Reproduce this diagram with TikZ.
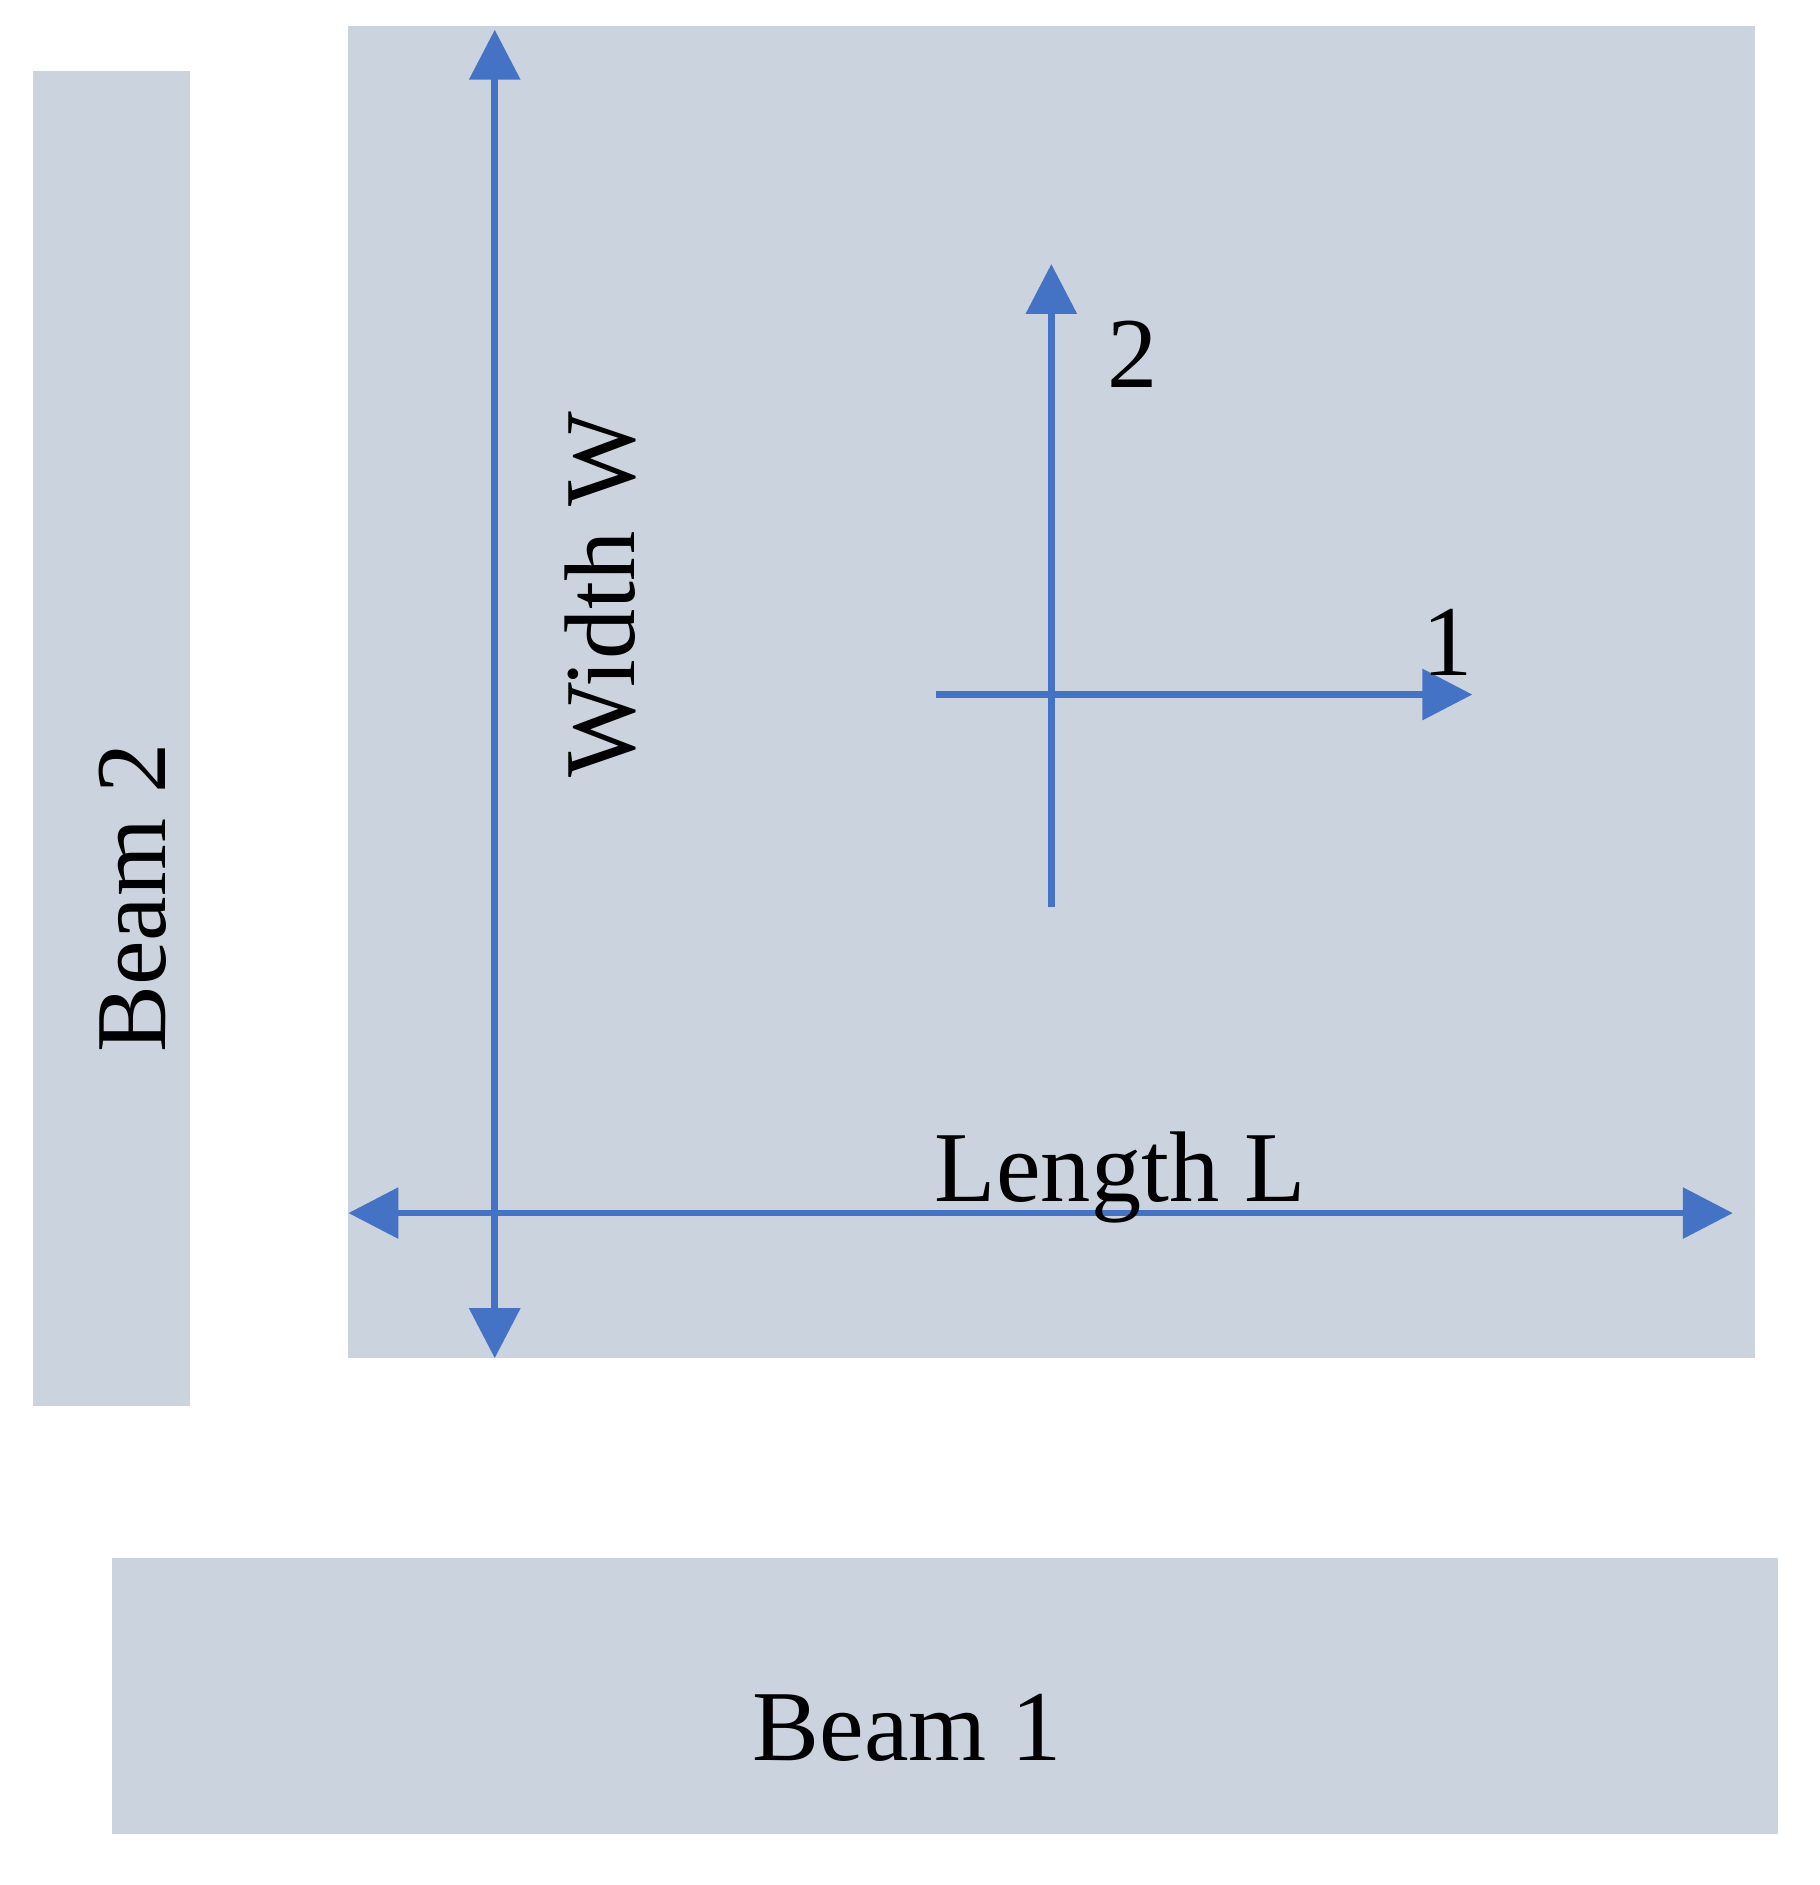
\documentclass[tikz,border=0pt]{standalone}
\usepackage{fontspec}
\setmainfont{Liberation Serif}
\usetikzlibrary{arrows.meta}
\definecolor{panel}{HTML}{CBD4DE}
\definecolor{arr}{HTML}{4472C4}
\begin{document}
\begin{tikzpicture}[x=0.01cm,y=-0.01cm,
  box/.style={fill=panel,draw=none},
  lbl/.style={font=\fontsize{24pt}{28pt}\selectfont,inner sep=0pt},
  arrline/.style={draw=arr,line width=0.055cm,-{Triangle[length=0.42cm,width=0.42cm]}},
  darrline/.style={draw=arr,line width=0.055cm,{Triangle[length=0.42cm,width=0.42cm]}-{Triangle[length=0.42cm,width=0.42cm]}}]
\useasboundingbox (0,0) rectangle (1530,1585);
\fill[white] (0,0) rectangle (1530,1585);
\fill[box] (293,22) rectangle (1476,1142);
\fill[box] (28,60) rectangle (160,1182);
\fill[box] (94,1310) rectangle (1495,1542);
\node[lbl,rotate=90] (b2) at (112,755) {Beam 2};
\node[lbl] (b1) at (763,1453) {Beam 1};
\coordinate (vt) at (416,25); \coordinate (vb) at (416,1142);
\coordinate (hl) at (293,1020); \coordinate (hr) at (1457,1020);
\draw[darrline] (vb) -- (vt);
\draw[darrline] (hl) -- (hr);
\node[lbl,rotate=90] (w) at (505,500) {Width W};
\node[lbl] (l) at (942,990) {Length L};
\coordinate (a1s) at (787,584); \coordinate (a1e) at (1238,584);
\coordinate (a2s) at (884,763); \coordinate (a2e) at (884,222);
\draw[arrline] (a1s) -- (a1e);
\draw[arrline] (a2s) -- (a2e);
\node[lbl] (t2) at (952,298) {2};
\node[lbl] (t1) at (1217,540) {1};
\end{tikzpicture}
\end{document}
